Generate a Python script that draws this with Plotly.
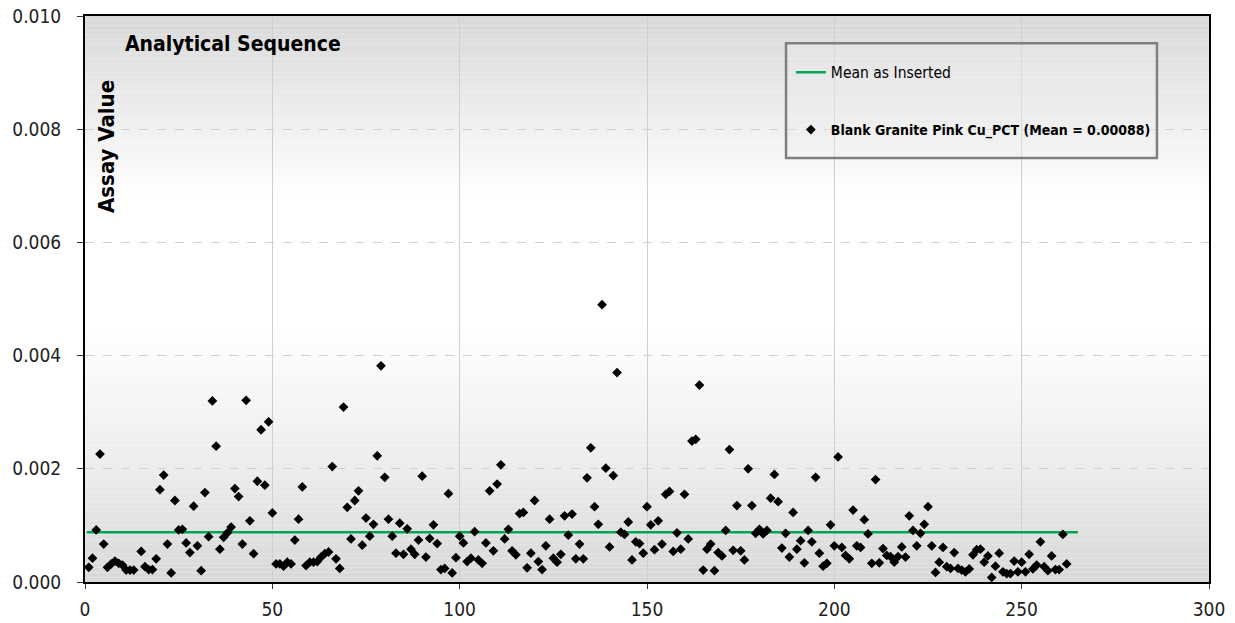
import plotly.graph_objects as go

# ---------------- data ----------------
sequence = [1,2,3,4,5,6,7,8,9,10,11,12,13,15,16,17,18,19,20,
            21,22,23,24,25,26,27,28,29,30,31,32,33,34,35,36,37,38,39,40,
            41,42,43,44,45,46,47,48,49,50,51,52,53,54,55,56,57,58,59,60,
            61,62,63,64,65,66,67,68,69,70,71,72,73,74,75,76,77,78,79,80,
            81,82,83,84,85,86,87,88,89,90,91,92,93,94,95,96,97,98,99,100,
            101,102,103,104,105,106,107,108,109,110,111,112,113,114,115,116,117,118,119,120,
            121,122,123,124,125,126,127,128,129,130,131,132,133,134,135,136,137,138,139,140,
            141,142,143,144,145,146,147,148,149,150,151,152,153,154,155,156,157,158,159,160,
            161,162,163,164,165,166,167,168,169,170,171,172,173,174,175,176,177,178,179,180,
            181,182,183,184,185,186,187,188,189,190,191,192,193,194,195,196,197,198,199,200,
            201,202,203,204,205,206,207,208,209,210,211,212,213,214,215,216,217,218,219,220,
            221,222,223,224,225,226,227,228,229,230,231,232,233,234,235,236,237,238,239,240,
            241,242,243,244,245,246,247,248,249,250,251,252,253,254,255,256,257,258,259,260,
            261,262]

cu_pct = [0.00026,0.00042,0.00092,0.00226,0.00067,0.00026,0.00032,0.00037,0.00033,0.00030,
          0.00021,0.00021,0.00021,0.00054,0.00027,0.00022,0.00022,0.00041,0.00163,
          0.00189,0.00067,0.00016,0.00144,0.00092,0.00093,0.00069,0.00052,0.00134,0.00064,
          0.00020,0.00158,0.00080,0.00320,0.00240,0.00058,0.00079,0.00087,0.00097,0.00165,
          0.00151,0.00067,0.00321,0.00108,0.00050,0.00178,0.00269,0.00171,0.00283,0.00122,
          0.00032,0.00032,0.00028,0.00035,0.00032,0.00074,0.00111,0.00168,0.00029,0.00035,
          0.00035,0.00036,0.00044,0.00050,0.00053,0.00204,0.00041,0.00024,0.00309,0.00132,
          0.00076,0.00144,0.00161,0.00065,0.00113,0.00081,0.00102,0.00223,0.00382,0.00185,
          0.00111,0.00081,0.00051,0.00104,0.00049,0.00094,0.00058,0.00049,0.00074,0.00187,
          0.00044,0.00077,0.00101,0.00068,0.00022,0.00024,0.00156,0.00016,0.00043,0.00081,
          0.00069,0.00036,0.00042,0.00089,0.00039,0.00033,0.00069,0.00161,0.00055,0.00173,
          0.00207,0.00076,0.00093,0.00055,0.00048,0.00121,0.00123,0.00025,0.00051,0.00144,
          0.00036,0.00022,0.00064,0.00111,0.00042,0.00035,0.00049,0.00117,0.00083,0.00120,
          0.00041,0.00067,0.00041,0.00184,0.00237,0.00133,0.00102,0.00490,0.00201,0.00062,
          0.00188,0.00370,0.00088,0.00084,0.00106,0.00039,0.00071,0.00068,0.00051,0.00133,
          0.00101,0.00057,0.00108,0.00067,0.00155,0.00160,0.00054,0.00087,0.00058,0.00155,
          0.00076,0.00249,0.00252,0.00348,0.00021,0.00058,0.00067,0.00020,0.00052,0.00046,
          0.00091,0.00234,0.00056,0.00135,0.00055,0.00039,0.00200,0.00135,0.00086,0.00093,
          0.00085,0.00091,0.00148,0.00190,0.00142,0.00060,0.00086,0.00044,0.00123,0.00058,
          0.00073,0.00034,0.00091,0.00071,0.00185,0.00051,0.00028,0.00033,0.00101,0.00064,
          0.00221,0.00061,0.00047,0.00041,0.00127,0.00064,0.00061,0.00110,0.00085,0.00033,
          0.00181,0.00034,0.00059,0.00047,0.00045,0.00035,0.00045,0.00062,0.00044,0.00117,
          0.00091,0.00064,0.00086,0.00102,0.00133,0.00064,0.00017,0.00035,0.00061,0.00027,
          0.00024,0.00052,0.00024,0.00021,0.00018,0.00023,0.00048,0.00057,0.00058,0.00035,
          0.00046,0.00008,0.00028,0.00051,0.00018,0.00015,0.00015,0.00037,0.00018,0.00035,
          0.00018,0.00049,0.00023,0.00030,0.00071,0.00027,0.00020,0.00046,0.00022,0.00022,
          0.00084,0.00032]

mean_as_inserted = 0.00088
mean_x = [0.5, 265]
mean_y = [mean_as_inserted, mean_as_inserted]

x_ticks = [0, 50, 100, 150, 200, 250, 300]
y_ticks = [0.000, 0.002, 0.004, 0.006, 0.008, 0.010]

FONT = "DejaVu Sans Condensed, DejaVu Sans, sans-serif"

fig = go.Figure()

fig.add_trace(go.Scatter(
    x=mean_x, y=mean_y, mode="lines",
    line=dict(color="#00a651", width=2.5),
    name="<span style='font-size:15.5px'>Mean as Inserted</span>",
    legendgroup="a", hoverinfo="skip"))

fig.add_trace(go.Scatter(
    x=sequence, y=cu_pct, mode="markers",
    marker=dict(symbol="diamond", size=7.5, color="black"),
    name="<b>Blank Granite Pink Cu_PCT (Mean = 0.00088)</b>",
    legendgroup="b", cliponaxis=False))

# background gradient bands (style only)
stops = [(0.0, 216), (0.002, 236), (0.0045, 255), (0.0068, 255), (0.010, 216)]
def shade(v):
    for (a, ca), (b, cb) in zip(stops[:-1], stops[1:]):
        if a <= v <= b:
            t = (v - a) / (b - a)
            return int(round(ca + (cb - ca) * t))
    return 255
shapes = []
n = 120
for i in range(n):
    y0 = 0.010 * i / n
    y1 = 0.010 * (i + 1) / n
    c = shade((y0 + y1) / 2)
    shapes.append(dict(type="rect", xref="paper", yref="y", x0=0, x1=1, y0=y0, y1=y1,
                       fillcolor=f"rgb({c},{c},{c})", line=dict(width=0), layer="below"))
# legend frame
shapes.append(dict(type="rect", xref="paper", yref="paper",
                   x0=0.6237, x1=0.9537, y0=0.749, y1=0.952,
                   fillcolor="rgba(238,238,238,0.35)",
                   line=dict(color="#7f7f7f", width=2.5), layer="above"))

fig.update_layout(
    width=1235, height=623,
    margin=dict(l=85, r=26, t=16, b=41),
    paper_bgcolor="white", plot_bgcolor="white",
    font=dict(family=FONT, color="#222222", size=16),
    shapes=shapes,
    showlegend=True,
    legend=dict(x=0.628, y=0.928, xanchor="left", yanchor="top",
                bgcolor="rgba(0,0,0,0)", borderwidth=0,
                font=dict(family=FONT, size=14, color="black"),
                tracegroupgap=36, traceorder="grouped", itemwidth=30),
    annotations=[
        dict(text="<b>Analytical Sequence</b>", xref="paper", yref="paper",
             x=0.0338, y=0.9505, xanchor="left", yanchor="middle", showarrow=False,
             font=dict(family=FONT, size=21, color="black")),
        dict(text="<b>Assay Value</b>", xref="paper", yref="paper",
             x=0.0196, y=0.7686, xanchor="center", yanchor="middle", showarrow=False,
             textangle=-90, font=dict(family=FONT, size=22, color="black")),
    ],
)

fig.update_xaxes(range=[0, 300], tickvals=x_ticks, ticktext=[str(v) for v in x_ticks],
                 automargin=False,
                 showline=True, linecolor="black", linewidth=2, mirror=True,
                 ticks="outside", ticklen=5, tickcolor="#333333", ticklabelstandoff=4,
                 showgrid=True, gridcolor="#cfcfcf", gridwidth=1, zeroline=False,
                 tickfont=dict(family=FONT, size=19, color="#222222"))
fig.update_yaxes(range=[0, 0.010], tickvals=y_ticks, ticktext=[f"{v:.3f}" for v in y_ticks],
                 automargin=False,
                 showline=True, linecolor="black", linewidth=2, mirror=True,
                 ticks="outside", ticklen=6, tickcolor="#333333", ticklabelstandoff=12,
                 showgrid=True, gridcolor="#d0d0d0", gridwidth=1, griddash="dash",
                 zeroline=False,
                 tickfont=dict(family=FONT, size=19, color="#222222"))

fig.write_html("out.html", config={"displayModeBar": False})
